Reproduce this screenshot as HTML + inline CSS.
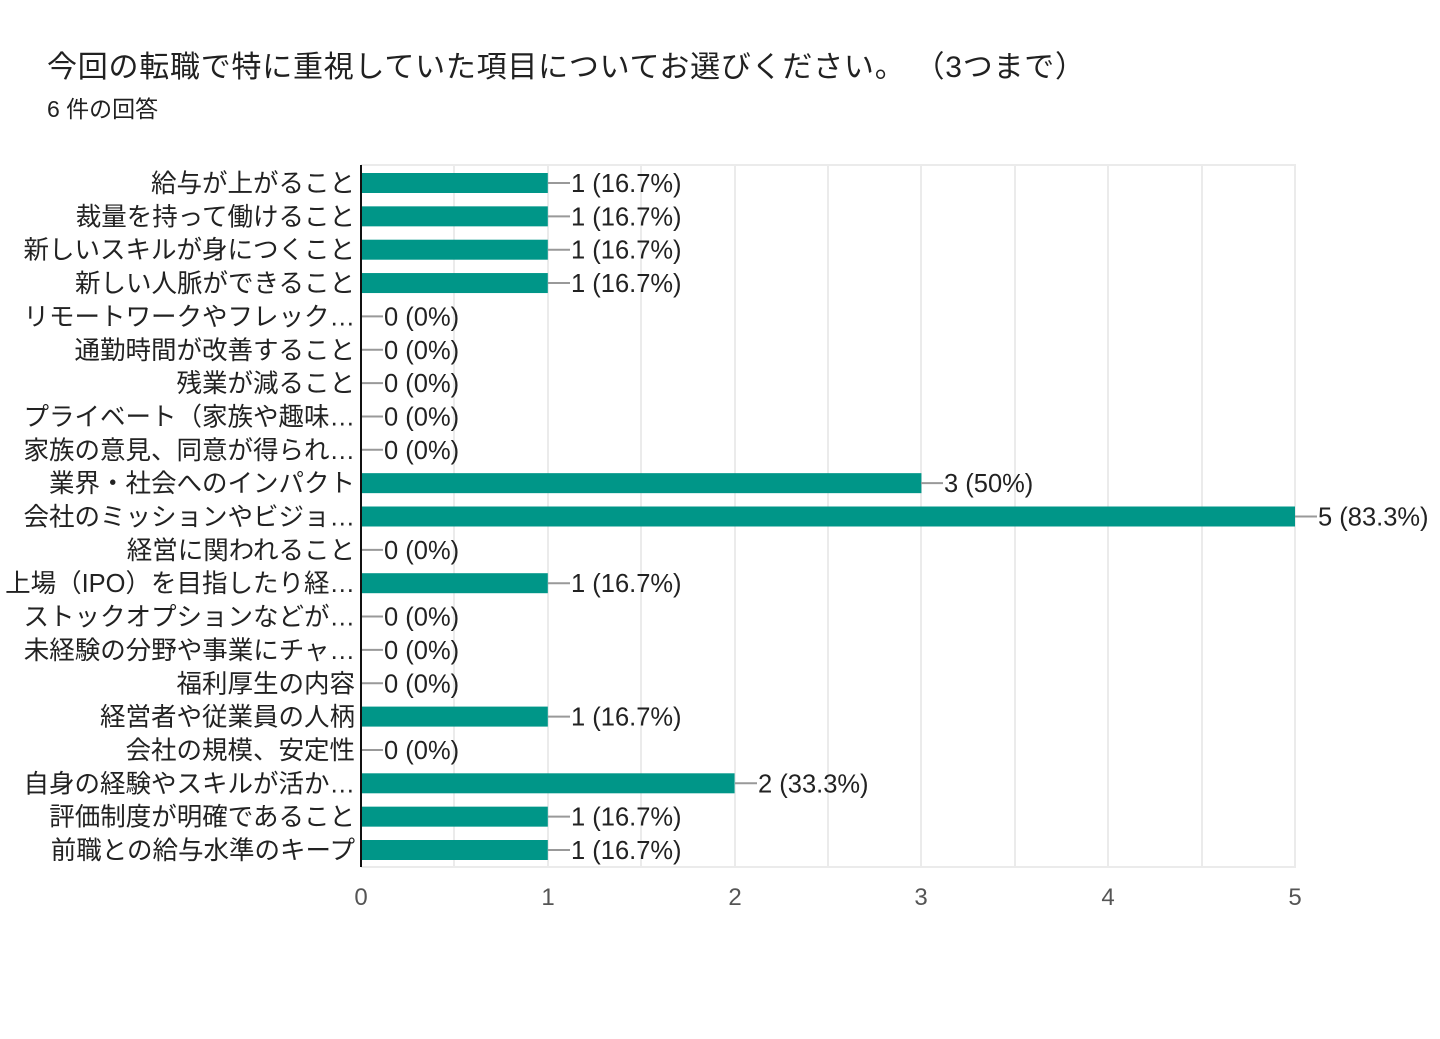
<!DOCTYPE html>
<html><head><meta charset="utf-8"><style>
html,body{margin:0;padding:0;background:#fff;}
svg{display:block;}
text{font-family:"Liberation Sans","Noto Sans CJK JP",sans-serif;}
</style></head><body>
<svg width="1440" height="1039" xmlns="http://www.w3.org/2000/svg">
<text x="47" y="77" font-size="30" fill="#212121" textLength="1038" lengthAdjust="spacing">今回の転職で特に重視していた項目についてお選びください。 （3つまで）</text>
<text x="47" y="117" font-size="23" fill="#212121">6 件の回答</text>
<g stroke="#ebebeb" stroke-width="2">
<line x1="361" y1="165" x2="1296" y2="165"/>
<line x1="454" y1="165" x2="454" y2="867"/><line x1="548" y1="165" x2="548" y2="867"/>
<line x1="641" y1="165" x2="641" y2="867"/><line x1="735" y1="165" x2="735" y2="867"/>
<line x1="828" y1="165" x2="828" y2="867"/><line x1="921" y1="165" x2="921" y2="867"/>
<line x1="1015" y1="165" x2="1015" y2="867"/><line x1="1108" y1="165" x2="1108" y2="867"/>
<line x1="1202" y1="165" x2="1202" y2="867"/><line x1="1295" y1="165" x2="1295" y2="867"/>
<line x1="361" y1="867" x2="1296" y2="867"/>
</g>
<g fill="#009688">
<rect x="361" y="173" width="186.8" height="20"/>
<rect x="361" y="206.35" width="186.8" height="20"/>
<rect x="361" y="239.7" width="186.8" height="20"/>
<rect x="361" y="273.05" width="186.8" height="20"/>
<rect x="361" y="473.15" width="560.4" height="20"/>
<rect x="361" y="506.5" width="934" height="20"/>
<rect x="361" y="573.2" width="186.8" height="20"/>
<rect x="361" y="706.6" width="186.8" height="20"/>
<rect x="361" y="773.3" width="373.6" height="20"/>
<rect x="361" y="806.65" width="186.8" height="20"/>
<rect x="361" y="840" width="186.8" height="20"/>
</g>
<g stroke="#999" stroke-width="2">
<line x1="548" y1="183" x2="570" y2="183"/>
<line x1="548" y1="216.35" x2="570" y2="216.35"/>
<line x1="548" y1="249.7" x2="570" y2="249.7"/>
<line x1="548" y1="283.05" x2="570" y2="283.05"/>
<line x1="361" y1="316.4" x2="383" y2="316.4"/>
<line x1="361" y1="349.75" x2="383" y2="349.75"/>
<line x1="361" y1="383.1" x2="383" y2="383.1"/>
<line x1="361" y1="416.45" x2="383" y2="416.45"/>
<line x1="361" y1="449.8" x2="383" y2="449.8"/>
<line x1="921" y1="483.15" x2="943" y2="483.15"/>
<line x1="1295" y1="516.5" x2="1317" y2="516.5"/>
<line x1="361" y1="549.85" x2="383" y2="549.85"/>
<line x1="548" y1="583.2" x2="570" y2="583.2"/>
<line x1="361" y1="616.55" x2="383" y2="616.55"/>
<line x1="361" y1="649.9" x2="383" y2="649.9"/>
<line x1="361" y1="683.25" x2="383" y2="683.25"/>
<line x1="548" y1="716.6" x2="570" y2="716.6"/>
<line x1="361" y1="749.95" x2="383" y2="749.95"/>
<line x1="735" y1="783.3" x2="757" y2="783.3"/>
<line x1="548" y1="816.65" x2="570" y2="816.65"/>
<line x1="548" y1="850" x2="570" y2="850"/>
</g>
<g font-size="25.5" fill="#222" text-anchor="end">
<text x="355" y="192">給与が上がること</text>
<text x="355" y="225.35">裁量を持って働けること</text>
<text x="355" y="258.7">新しいスキルが身につくこと</text>
<text x="355" y="292.05">新しい人脈ができること</text>
<text x="355" y="325.4">リモートワークやフレック…</text>
<text x="355" y="358.75">通勤時間が改善すること</text>
<text x="355" y="392.1">残業が減ること</text>
<text x="355" y="425.45">プライベート（家族や趣味…</text>
<text x="355" y="458.8">家族の意見、同意が得られ…</text>
<text x="355" y="492.15">業界・社会へのインパクト</text>
<text x="355" y="525.5">会社のミッションやビジョ…</text>
<text x="355" y="558.85">経営に関われること</text>
<text x="355" y="592.2">上場（IPO）を目指したり経…</text>
<text x="355" y="625.55">ストックオプションなどが…</text>
<text x="355" y="658.9">未経験の分野や事業にチャ…</text>
<text x="355" y="692.25">福利厚生の内容</text>
<text x="355" y="725.6">経営者や従業員の人柄</text>
<text x="355" y="758.95">会社の規模、安定性</text>
<text x="355" y="792.3">自身の経験やスキルが活か…</text>
<text x="355" y="825.65">評価制度が明確であること</text>
<text x="355" y="859">前職との給与水準のキープ</text>
</g>
<g font-size="25.5" fill="#222">
<text x="571" y="192">1 (16.7%)</text>
<text x="571" y="225.35">1 (16.7%)</text>
<text x="571" y="258.7">1 (16.7%)</text>
<text x="571" y="292.05">1 (16.7%)</text>
<text x="384" y="325.4">0 (0%)</text>
<text x="384" y="358.75">0 (0%)</text>
<text x="384" y="392.1">0 (0%)</text>
<text x="384" y="425.45">0 (0%)</text>
<text x="384" y="458.8">0 (0%)</text>
<text x="944" y="492.15">3 (50%)</text>
<text x="1318" y="525.5">5 (83.3%)</text>
<text x="384" y="558.85">0 (0%)</text>
<text x="571" y="592.2">1 (16.7%)</text>
<text x="384" y="625.55">0 (0%)</text>
<text x="384" y="658.9">0 (0%)</text>
<text x="384" y="692.25">0 (0%)</text>
<text x="571" y="725.6">1 (16.7%)</text>
<text x="384" y="758.95">0 (0%)</text>
<text x="758" y="792.3">2 (33.3%)</text>
<text x="571" y="825.65">1 (16.7%)</text>
<text x="571" y="859">1 (16.7%)</text>
</g>
<line x1="361" y1="165" x2="361" y2="867" stroke="#111" stroke-width="2"/>
<g font-size="24" fill="#555" text-anchor="middle">
<text x="361" y="905">0</text><text x="548" y="905">1</text><text x="735" y="905">2</text>
<text x="921" y="905">3</text><text x="1108" y="905">4</text><text x="1295" y="905">5</text>
</g>
</svg>
</body></html>
